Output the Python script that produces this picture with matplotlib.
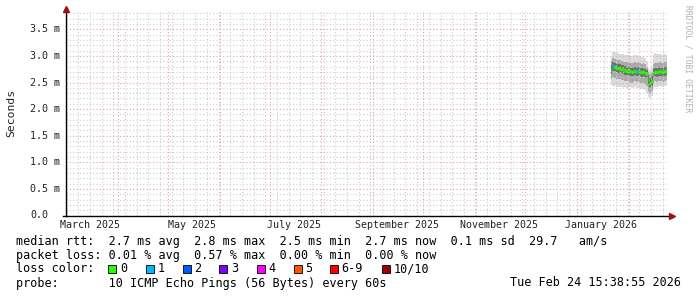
import datetime as dt
import matplotlib
matplotlib.use("Agg")
import matplotlib.pyplot as plt
import matplotlib.dates as mdates
import numpy as np
import pandas as pd

W, H = 697, 297

# time range of the graph (last 360 days)
T_START = dt.datetime(2025, 3, 1, 15, 38, 55)
T_END = dt.datetime(2026, 2, 24, 15, 38, 55)

# daily data, first day 2026-01-22
DATA_START = dt.datetime(2026, 1, 22)
median = [2.74, 2.81, 2.80, 2.78, 2.77, 2.76, 2.75, 2.74, 2.73, 2.72,
          2.72, 2.71, 2.70, 2.71, 2.72, 2.71, 2.72, 2.70, 2.69, 2.71,
          2.68, 2.66, 2.56, 2.50, 2.53, 2.66, 2.70, 2.69, 2.70, 2.71,
          2.70, 2.69, 2.71, 2.72]
loss = [0, 1, 0, 0, 0, 0, 0, 0, 0, 0,
        0, 0, 0, 0, 0, 1, 0, 0, 0, 0,
        0, 0, 0, 0, 0, 0, 0, 0, 0, 0,
        0, 0, 0, 0]
outer_hi = [3.00, 3.08, 3.07, 3.06, 3.05, 3.04, 3.03, 3.03, 3.02, 3.02,
            3.01, 3.00, 3.00, 3.01, 3.02, 3.01, 3.00, 3.00, 2.98, 3.00,
            2.96, 2.90, 2.78, 2.74, 2.80, 3.02, 3.05, 3.04, 3.03, 3.04,
            3.02, 3.03, 3.04, 3.02]
outer_lo = [2.45, 2.44, 2.43, 2.42, 2.42, 2.41, 2.42, 2.40, 2.41, 2.40,
            2.40, 2.41, 2.40, 2.39, 2.41, 2.40, 2.40, 2.39, 2.38, 2.40,
            2.36, 2.30, 2.22, 2.20, 2.25, 2.38, 2.42, 2.41, 2.42, 2.43,
            2.42, 2.41, 2.43, 2.44]
mid_hi = [2.90, 2.96, 2.95, 2.93, 2.92, 2.92, 2.91, 2.90, 2.89, 2.88,
          2.88, 2.87, 2.86, 2.87, 2.88, 2.87, 2.88, 2.86, 2.85, 2.87,
          2.84, 2.80, 2.70, 2.66, 2.70, 2.84, 2.87, 2.86, 2.87, 2.88,
          2.87, 2.86, 2.88, 2.88]
mid_lo = [2.57, 2.60, 2.59, 2.57, 2.56, 2.56, 2.55, 2.54, 2.53, 2.52,
          2.52, 2.51, 2.50, 2.51, 2.52, 2.51, 2.52, 2.50, 2.49, 2.51,
          2.48, 2.44, 2.34, 2.30, 2.34, 2.48, 2.52, 2.51, 2.52, 2.53,
          2.52, 2.51, 2.53, 2.54]
inner_hi = [2.82, 2.88, 2.87, 2.85, 2.84, 2.84, 2.83, 2.82, 2.81, 2.80,
            2.80, 2.79, 2.78, 2.79, 2.80, 2.79, 2.80, 2.78, 2.77, 2.79,
            2.76, 2.74, 2.64, 2.58, 2.62, 2.75, 2.78, 2.77, 2.78, 2.79,
            2.78, 2.77, 2.79, 2.80]
inner_lo = [2.66, 2.72, 2.71, 2.69, 2.68, 2.68, 2.67, 2.66, 2.65, 2.64,
            2.64, 2.63, 2.62, 2.63, 2.64, 2.63, 2.64, 2.62, 2.61, 2.63,
            2.60, 2.58, 2.48, 2.42, 2.44, 2.58, 2.62, 2.61, 2.62, 2.63,
            2.62, 2.61, 2.63, 2.64]

loss_colors = ["#26ff00", "#00b8ff", "#0059ff", "#7e00ff",
               "#ff00ff", "#ff5500", "#ff0000", "#a10000"]
loss_labels = ["0", "1", "2", "3", "4", "5", "6-9", "10/10"]

y_ticks = [0.0, 0.5, 1.0, 1.5, 2.0, 2.5, 3.0, 3.5]
y_tick_labels = ["0.0", "0.5 m", "1.0 m", "1.5 m", "2.0 m", "2.5 m", "3.0 m", "3.5 m"]
x_label_months = ["2025-03-16", "2025-05-16", "2025-07-16",
                  "2025-09-16", "2025-11-16", "2026-01-16"]

legend_rows = [
    "median rtt:  2.7 ms avg  2.8 ms max  2.5 ms min  2.7 ms now  0.1 ms sd  29.7   am/s",
    "packet loss: 0.01 % avg  0.57 % max  0.00 % min  0.00 % now",
]
probe_text = "probe:       10 ICMP Echo Pings (56 Bytes) every 60s"
stamp_text = "Tue Feb 24 15:38:55 2026"

plt.rcParams["font.family"] = ["DejaVu Sans Mono"]

fig = plt.figure(figsize=(W / 100, H / 100), dpi=100)
fig.patch.set_facecolor("white")

# plot area in pixel coords
L, R, TOP, BOT = 66, 667, 12, 215.5
ax = fig.add_axes([L / W, (H - BOT) / H, (R - L) / W, (BOT - TOP) / H])
ax.set_xlim(mdates.date2num(T_START), mdates.date2num(T_END))
ax.set_ylim(0, (BOT - TOP) / 53.2)
for s in ax.spines.values():
    s.set_visible(False)
ax.set_xticks([])
ax.set_yticks([])

# smoke and median
edges = mdates.date2num([DATA_START + dt.timedelta(days=i) for i in range(len(median) + 1)])
edges[-1] = min(edges[-1], mdates.date2num(T_END))
ax.stairs(outer_hi, edges, baseline=outer_lo, fill=True, color="#dcdcdc", zorder=1)
ax.stairs(mid_hi, edges, baseline=mid_lo, fill=True, color="#aaaaaa", zorder=1.1)
ax.stairs(inner_hi, edges, baseline=inner_lo, fill=True, color="#707070", zorder=1.2)
ax.hlines(median, edges[:-1], edges[1:], colors=[loss_colors[l] for l in loss],
          linewidth=2.4, zorder=4)

# grid (drawn above the smoke, like rrdtool)
minor_c, major_c = "#cccccc", "#eaa0a0"
dots = (0, (1, 2))
for v in np.arange(1, 39) / 10:
    if round(v * 10) % 5 == 0:
        ax.axhline(v, color=major_c, lw=0.8, ls=dots, zorder=3)
    else:
        ax.axhline(v, color=minor_c, lw=0.8, ls=dots, zorder=3)
for d in pd.date_range(T_START, T_END, freq="W-SUN").normalize():
    ax.axvline(mdates.date2num(d), color=minor_c, lw=0.8, ls=dots, zorder=3)
for d in pd.date_range(T_START, T_END, freq="MS"):
    ax.axvline(mdates.date2num(d), color=major_c, lw=0.8, ls=dots, zorder=3)

# axes with arrows
fig.add_artist(plt.Line2D([L / W, L / W], [1 - 215.5 / H, 1 - 9 / H], color="black", lw=1.0))
fig.add_artist(plt.Line2D([63 / W, 671 / W], [1 - 215.5 / H, 1 - 215.5 / H], color="black", lw=1.0))
fig.add_artist(plt.Line2D([L / W], [1 - 9 / H], marker="^", color="#a01010", markersize=5, lw=0))
fig.add_artist(plt.Line2D([672 / W], [1 - 215.5 / H], marker=">", color="#a01010", markersize=5, lw=0))

# tick labels
for v, lab in zip(y_ticks, y_tick_labels):
    ax.text((30 - L) / (R - L), v, lab, transform=ax.get_yaxis_transform(),
            ha="left", va="center", fontsize=7.2, color="#222222", clip_on=False)
for m in x_label_months:
    d = pd.Timestamp(m)
    ax.text(mdates.date2num(d), -(224.5 - BOT) / (BOT - TOP), d.strftime("%B %Y"),
            transform=ax.get_xaxis_transform(), ha="center", va="center",
            fontsize=7.2, color="#222222", clip_on=False)

fig.text(11 / W, 1 - 113 / H, "Seconds", rotation=90, ha="center", va="center",
         fontsize=8.2, color="#222222")
fig.text(688 / W, 1 - 5 / H, "RRDTOOL / TOBI OETIKER", rotation=270, ha="center",
         va="top", fontsize=5.8, color="#b0b0b0")

# legend
FS = 8.5
for i, row in enumerate(legend_rows):
    fig.text(16 / W, 1 - (241 + 14 * i) / H, row, ha="left", va="center", fontsize=FS)
fig.text(16 / W, 1 - 269 / H, "loss color:", ha="left", va="center", fontsize=FS)
box_x = [108.3, 145.7, 182.7, 219.3, 256.7, 294, 330, 381.7]
for bx, c, lab in zip(box_x, loss_colors, loss_labels):
    fig.add_artist(plt.Rectangle((bx / W, 1 - 273 / H), 8 / W, 8.5 / H,
                                 facecolor=c, edgecolor="black", lw=0.6))
    fig.text((bx + 11.5) / W, 1 - 269 / H, lab, ha="left", va="center", fontsize=FS)
fig.text(16 / W, 1 - 283 / H, probe_text, ha="left", va="center", fontsize=FS)
fig.text(681 / W, 1 - 283 / H, stamp_text, ha="right", va="center", fontsize=FS)

fig.savefig("out.png", dpi=100, facecolor="white")
